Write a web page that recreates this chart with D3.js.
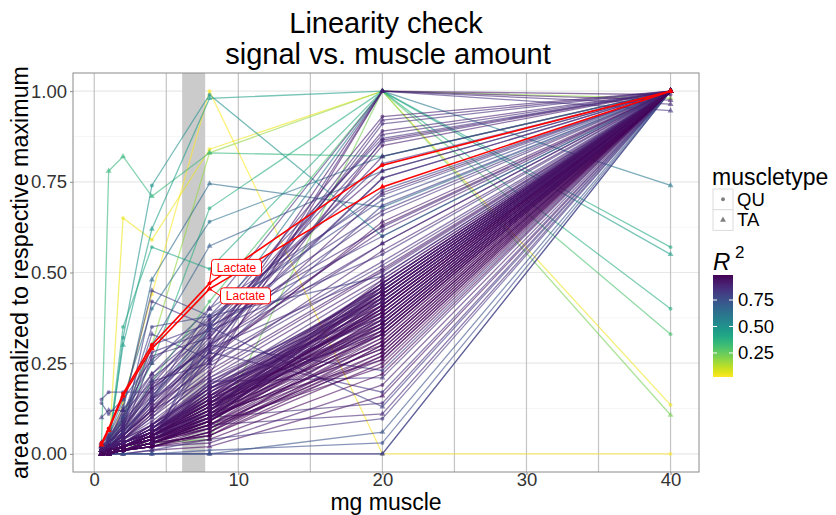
<!DOCTYPE html>
<html>
<head>
<meta charset="utf-8">
<script src="https://cdn.jsdelivr.net/npm/d3@7"></script>
<style>
  body { margin: 0; background: #fff; }
  text { font-family: "Liberation Sans", Arial, sans-serif; }
</style>
</head>
<body>
<svg id="chart" width="836" height="515"></svg>
<script>
// mg of muscle in each dilution step
const mgMuscle = [0.5, 1, 2, 4, 8, 20, 40];

// bulk of well-behaved metabolites (dense purple band)
const bandAreas = [
  [0.00,0.01,0.02,0.05,0.12,0.40,1], [0.01,0.01,0.03,0.06,0.14,0.42,1],
  [0.00,0.00,0.01,0.03,0.09,0.35,1], [0.00,0.01,0.02,0.04,0.10,0.38,1],
  [0.01,0.02,0.03,0.07,0.16,0.45,1], [0.00,0.00,0.01,0.02,0.06,0.30,1],
  [0.00,0.01,0.02,0.05,0.13,0.44,1], [0.01,0.01,0.02,0.06,0.15,0.47,1],
  [0.00,0.00,0.02,0.04,0.11,0.33,1], [0.00,0.01,0.03,0.06,0.17,0.41,1],
  [0.00,0.00,0.01,0.03,0.08,0.28,1], [0.01,0.02,0.04,0.08,0.18,0.46,1],
  [0.00,0.01,0.02,0.05,0.12,0.36,1], [0.00,0.00,0.01,0.04,0.10,0.43,1],
  [0.00,0.01,0.02,0.05,0.14,0.39,1], [0.01,0.01,0.03,0.07,0.19,0.48,1],
  [0.00,0.00,0.01,0.02,0.07,0.32,1], [0.00,0.01,0.02,0.04,0.11,0.37,1],
  [0.00,0.01,0.03,0.06,0.15,0.44,1], [0.00,0.00,0.02,0.05,0.13,0.34,1],
  [0.01,0.02,0.03,0.08,0.20,0.45,1], [0.00,0.00,0.01,0.03,0.09,0.41,1],
  [0.00,0.01,0.02,0.04,0.12,0.46,1], [0.00,0.00,0.01,0.03,0.05,0.25,1],
  [0.00,0.01,0.02,0.05,0.16,0.38,1], [0.01,0.01,0.03,0.07,0.18,0.42,1],
  [0.00,0.00,0.02,0.04,0.08,0.31,1], [0.00,0.01,0.02,0.06,0.14,0.36,1],
  [0.00,0.00,0.01,0.02,0.04,0.22,1], [0.00,0.01,0.03,0.06,0.17,0.47,1],
  [0.00,0.01,0.02,0.05,0.10,0.29,1], [0.01,0.02,0.04,0.09,0.21,0.43,1],
  [0.00,0.00,0.01,0.03,0.07,0.27,1], [0.00,0.01,0.02,0.04,0.13,0.40,1],
  [0.00,0.00,0.02,0.05,0.15,0.35,1], [0.00,0.01,0.02,0.06,0.11,0.44,1],
  [0.00,0.00,0.01,0.02,0.06,0.34,1], [0.01,0.01,0.03,0.07,0.19,0.39,1],
  [0.00,0.00,0.02,0.04,0.09,0.37,1], [0.00,0.01,0.02,0.05,0.12,0.48,1],
  [0.00,0.00,0.01,0.03,0.08,0.24,1], [0.00,0.01,0.03,0.06,0.16,0.33,1],
  [0.00,0.00,0.02,0.05,0.14,0.45,1], [0.01,0.01,0.02,0.04,0.10,0.41,1],
  [0.00,0.00,0.01,0.03,0.05,0.30,1], [0.00,0.01,0.02,0.06,0.18,0.38,1],
  [0.00,0.00,0.02,0.05,0.13,0.42,1], [0.00,0.01,0.02,0.04,0.11,0.26,1],
  [0.01,0.02,0.03,0.07,0.15,0.36,1], [0.00,0.00,0.01,0.03,0.09,0.46,1],
  [0.00,0.01,0.02,0.04,0.11,0.39,1], [0.00,0.00,0.01,0.03,0.10,0.42,1],
  [0.01,0.01,0.03,0.06,0.15,0.45,1], [0.00,0.01,0.02,0.05,0.13,0.37,1],
  [0.00,0.00,0.01,0.03,0.08,0.33,1], [0.00,0.01,0.02,0.05,0.14,0.43,1],
  [0.01,0.02,0.03,0.07,0.17,0.40,1], [0.00,0.00,0.02,0.04,0.09,0.36,1],
  [0.00,0.01,0.02,0.06,0.16,0.47,1], [0.00,0.00,0.01,0.03,0.07,0.31,1],
  [0.00,0.01,0.03,0.06,0.14,0.34,1], [0.01,0.01,0.02,0.05,0.12,0.44,1],
  [0.00,0.00,0.01,0.04,0.11,0.41,1], [0.00,0.01,0.02,0.05,0.15,0.38,1],
  [0.00,0.00,0.02,0.04,0.10,0.29,1], [0.01,0.02,0.04,0.08,0.19,0.46,1],
  [0.00,0.01,0.02,0.05,0.12,0.35,1], [0.00,0.00,0.01,0.03,0.09,0.40,1],
  [0.00,0.01,0.02,0.06,0.17,0.43,1], [0.00,0.00,0.01,0.02,0.06,0.28,1],
  [0.01,0.01,0.03,0.07,0.18,0.44,1], [0.00,0.01,0.02,0.04,0.10,0.32,1],
  [0.00,0.00,0.02,0.05,0.13,0.39,1], [0.00,0.01,0.02,0.05,0.11,0.45,1],
  [0.00,0.00,0.01,0.03,0.08,0.36,1], [0.01,0.02,0.03,0.06,0.16,0.41,1],
  [0.00,0.00,0.01,0.04,0.12,0.47,1], [0.00,0.01,0.02,0.05,0.14,0.30,1],
  [0.00,0.00,0.02,0.04,0.07,0.26,1], [0.00,0.01,0.03,0.07,0.20,0.42,1],
  [0.00,0.00,0.01,0.03,0.09,0.38,1], [0.01,0.01,0.02,0.05,0.13,0.35,1],
  [0.00,0.01,0.02,0.06,0.15,0.46,1], [0.00,0.00,0.01,0.02,0.05,0.27,1],
  [0.00,0.01,0.02,0.04,0.11,0.33,1], [0.00,0.00,0.02,0.05,0.14,0.44,1],
  [0.01,0.02,0.03,0.08,0.18,0.37,1], [0.00,0.00,0.01,0.03,0.10,0.43,1],
  [0.00,0.01,0.02,0.05,0.12,0.40,1], [0.00,0.00,0.01,0.04,0.09,0.34,1]
];
const bandR2 = [
  0.95,0.93,0.97,0.96,0.92,0.98,0.94,0.91,0.96,0.93,
  0.97,0.90,0.95,0.94,0.96,0.89,0.97,0.95,0.93,0.96,
  0.90,0.94,0.92,0.98,0.95,0.93,0.96,0.94,0.97,0.91,
  0.95,0.89,0.97,0.94,0.96,0.92,0.97,0.90,0.95,0.93,
  0.96,0.94,0.92,0.95,0.97,0.91,0.94,0.96,0.92,0.93,
  0.94,0.96,0.92,0.95,0.97,0.93,0.91,0.96,0.94,0.98,
  0.92,0.95,0.97,0.93,0.96,0.90,0.94,0.97,0.92,0.98,
  0.91,0.95,0.96,0.93,0.97,0.94,0.92,0.96,0.95,0.90,
  0.97,0.93,0.94,0.98,0.95,0.96,0.91,0.94,0.96,0.97
];
const bandTissue = [
  "QU","TA","QU","QU","TA","QU","TA","QU","TA","QU",
  "TA","QU","QU","TA","QU","TA","QU","TA","QU","TA",
  "QU","TA","QU","QU","TA","QU","TA","QU","TA","QU",
  "TA","QU","QU","TA","QU","TA","QU","TA","QU","TA",
  "QU","TA","QU","QU","TA","QU","TA","QU","TA","QU",
  "TA","QU","TA","TA","QU","TA","QU","TA","QU","QU",
  "TA","QU","TA","QU","TA","TA","QU","TA","QU","TA",
  "QU","TA","QU","TA","QU","QU","TA","QU","TA","QU",
  "TA","QU","TA","QU","QU","TA","QU","TA","QU","TA"
];

// metabolites spread above / below the band, and a few peaking at 20 mg
const spreadAreas = [
  [0.02,0.04,0.09,0.18,0.35,0.93,1], [0.01,0.03,0.06,0.14,0.30,0.92,1],
  [0.00,0.02,0.05,0.12,0.28,0.91,1], [0.03,0.05,0.10,0.22,0.38,0.87,1],
  [0.01,0.02,0.05,0.12,0.25,0.865,1], [0.02,0.03,0.08,0.16,0.33,0.86,1],
  [0.15,0.17,0.17,0.17,0.30,0.76,1], [0.14,0.11,0.15,0.26,0.37,0.727,1],
  [0.10,0.12,0.12,0.25,0.40,0.713,1], [0.02,0.04,0.10,0.35,0.38,0.70,1],
  [0.01,0.02,0.08,0.33,0.26,0.685,1], [0.00,0.03,0.07,0.30,0.36,0.67,1],
  [0.02,0.04,0.12,0.22,0.35,0.625,1], [0.01,0.02,0.06,0.18,0.30,0.615,1],
  [0.00,0.02,0.05,0.15,0.28,0.58,1], [0.02,0.03,0.09,0.28,0.34,0.55,1],
  [0.01,0.04,0.11,0.20,0.25,0.52,1], [0.00,0.01,0.04,0.10,0.22,0.505,1],
  [0.03,0.05,0.13,0.45,0.38,0.49,1], [0.01,0.02,0.06,0.42,0.35,0.60,1],
  [0.00,0.02,0.05,0.27,0.32,0.82,1], [0.01,0.03,0.07,0.19,0.37,0.78,1],
  [0.00,0.02,0.04,0.11,0.26,0.64,1],
  [0.01,0.02,0.06,0.15,0.32,0.89,1], [0.02,0.03,0.07,0.17,0.34,0.88,1],
  [0.00,0.02,0.05,0.13,0.29,0.85,1], [0.01,0.03,0.08,0.20,0.36,0.80,1],
  [0.00,0.02,0.06,0.16,0.31,0.76,1], [0.01,0.02,0.05,0.14,0.28,0.72,1],
  [0.02,0.04,0.09,0.21,0.33,0.66,1], [0.00,0.01,0.04,0.12,0.27,0.63,1],
  [0.01,0.03,0.07,0.18,0.30,0.58,1], [0.00,0.02,0.05,0.13,0.24,0.56,1],
  [0.01,0.02,0.06,0.15,0.26,0.53,1], [0.00,0.01,0.04,0.11,0.23,0.51,1],
  [0.02,0.03,0.08,0.19,0.29,0.50,1], [0.01,0.02,0.05,0.12,0.21,0.49,1],
  [0.00,0.00,0.01,0.02,0.03,0.19,1], [0.00,0.00,0.00,0.01,0.02,0.16,1],
  [0.00,0.01,0.02,0.05,0.10,0.14,1], [0.00,0.00,0.01,0.03,0.08,0.11,1],
  [0.00,0.00,0.00,0.01,0.04,0.097,1], [0.00,0.00,0.00,0.00,0.01,0.03,1],
  [0.00,0.00,0.01,0.02,0.20,0.21,1], [0.00,0.01,0.02,0.04,0.30,0.23,1],
  [0.00,0.00,0.00,0.00,0.00,0.06,1], [0.00,0.00,0.01,0.03,0.28,0.17,1],
  [0.00,0.00,0.01,0.02,0.35,0.13,1],
  [0.01,0.02,0.05,0.12,0.30,1.00,0.975], [0.00,0.02,0.04,0.10,0.25,1.00,0.964],
  [0.02,0.03,0.06,0.15,0.40,1.00,0.946], [0.00,0.01,0.03,0.08,0.22,1.00,0.99]
];
const spreadR2 = [
  0.90,0.88,0.86,0.84,0.91,0.87,0.82,0.80,0.83,0.79,
  0.81,0.85,0.88,0.90,0.87,0.84,0.86,0.92,0.80,0.83,
  0.89,0.91,0.93,
  0.90,0.87,0.92,0.85,0.88,0.91,0.86,0.93,0.89,0.90,0.87,0.92,0.88,0.91,
  0.92,0.94,0.86,0.88,0.83,0.76,0.85,0.82,0.74,0.84,0.81,
  0.90,0.88,0.85,0.92
];
const spreadTissue = [
  "QU","TA","QU","TA","QU","TA","QU","QU","TA","QU",
  "TA","QU","TA","QU","TA","QU","TA","QU","TA","QU",
  "TA","QU","TA",
  "QU","TA","QU","TA","QU","TA","QU","TA","QU","TA","QU","TA","QU","TA",
  "QU","TA","QU","TA","QU","QU","TA","QU","TA","QU","TA",
  "TA","TA","TA","QU"
];

// poorly linear metabolites (low R^2)
const outlierAreas = [
  [0.00,0.02,0.14,0.44,1.00,0.00,0.00],
  [0.00,0.00,0.65,0.59,0.84,1.00,0.135],
  [0.00,0.01,0.02,0.03,0.04,1.00,0.107],
  [0.01,0.03,0.10,0.30,0.83,1.00,0.98],
  [0.02,0.78,0.82,0.71,0.83,0.82,1.00],
  [0.00,0.01,0.32,0.74,0.99,0.60,1.00],
  [0.00,0.03,0.30,0.62,0.98,1.00,0.55],
  [0.00,0.02,0.35,0.57,0.51,1.00,0.57],
  [0.00,0.01,0.10,0.25,0.677,1.00,0.40],
  [0.00,0.02,0.06,0.20,0.42,1.00,0.33],
  [0.01,0.03,0.12,0.48,0.745,0.68,1.00],
  [0.02,0.05,0.15,0.40,0.64,0.82,1.00],
  [0.01,0.03,0.10,0.30,0.573,0.78,1.00],
  [0.00,0.01,0.05,0.15,0.35,1.00,0.74],
  [0.00,0.00,0.00,0.00,0.00,0.00,1.00],
  [0.00,0.00,0.00,0.00,0.00,0.00,1.00]
];
const outlierR2 = [0.023,0.05,0.22,0.18,0.35,0.50,0.45,0.40,0.38,0.30,0.65,0.62,0.70,0.60,0.78,0.80];
const outlierTissue = ["QU","QU","TA","TA","TA","QU","TA","QU","QU","QU","TA","QU","TA","TA","TA","QU"];

// highlighted metabolite
const lactateAreas = [
  [0.03,0.07,0.166,0.30,0.47,0.796,1.00],
  [0.025,0.065,0.16,0.29,0.455,0.736,1.00]
];
const lactateR2 = [0.986, 0.98];
const lactateTissue = ["QU", "TA"];

const yTicks = [0, 0.25, 0.5, 0.75, 1];
const xTicks = [0, 10, 20, 30, 40];
const r2Ticks = [0.25, 0.5, 0.75];

function rows(areas, r2, tissue, hl) {
  return areas.map((a, i) => ({
    r2: r2[i], tissue: tissue[i], highlight: hl,
    pts: a.map((v, j) => ({ mg: mgMuscle[j], area: v }))
  }));
}
const series = [].concat(
  rows(outlierAreas, outlierR2, outlierTissue, false),
  rows(spreadAreas, spreadR2, spreadTissue, false),
  rows(bandAreas, bandR2, bandTissue, false),
  rows(lactateAreas, lactateR2, lactateTissue, true)
);

const svg = d3.select("#chart");
const panel = { left: 73, right: 699, top: 73, bottom: 472 };

const xExt = d3.extent(mgMuscle);
const xPad = (xExt[1] - xExt[0]) * 0.05;
const x = d3.scaleLinear().domain([xExt[0] - xPad, xExt[1] + xPad]).range([panel.left, panel.right]);
const yExt = d3.extent(series.flatMap(s => s.pts.map(p => p.area)));
const yPad = (yExt[1] - yExt[0]) * 0.05;
const y = d3.scaleLinear().domain([yExt[0] - yPad, yExt[1] + yPad]).range([panel.bottom, panel.top]);

const r2Ext = d3.extent(series.map(s => s.r2));
const color = d3.scaleSequential(d3.interpolateViridis).domain([r2Ext[1], r2Ext[0]]);

// panel background + grid
svg.append("rect")
  .attr("x", panel.left).attr("y", panel.top)
  .attr("width", panel.right - panel.left).attr("height", panel.bottom - panel.top)
  .attr("fill", "#fff");

const minorY = d3.range(0.125, 1.05, 0.25);
svg.append("g").selectAll("line").data(minorY).join("line")
  .attr("x1", panel.left).attr("x2", panel.right)
  .attr("y1", d => y(d)).attr("y2", d => y(d))
  .attr("stroke", "#f4f4f4").attr("stroke-width", 0.8);
svg.append("g").selectAll("line").data(yTicks).join("line")
  .attr("x1", panel.left).attr("x2", panel.right)
  .attr("y1", d => y(d)).attr("y2", d => y(d))
  .attr("stroke", "#e8e8e8").attr("stroke-width", 1.2);
svg.append("g").selectAll("line").data(d3.range(0, 41, 5)).join("line")
  .attr("x1", d => x(d)).attr("x2", d => x(d))
  .attr("y1", panel.top).attr("y2", panel.bottom)
  .attr("stroke", "#c4c4c4").attr("stroke-width", 1.2);

// shaded region
svg.append("rect")
  .attr("x", x(6.1)).attr("width", x(7.7) - x(6.1))
  .attr("y", panel.top).attr("height", panel.bottom - panel.top)
  .attr("fill", "#cbcbcb");

const line = d3.line().x(d => x(d.mg)).y(d => y(d.area));
const marks = svg.append("g");

series.forEach(s => {
  const c = s.highlight ? "#ff0000" : color(s.r2);
  const op = s.highlight ? 1 : 0.6;
  const g = marks.append("g");
  g.append("path")
    .attr("d", line(s.pts))
    .attr("fill", "none")
    .attr("stroke", c)
    .attr("stroke-opacity", op)
    .attr("stroke-width", s.highlight ? 1.6 : 1.3);
  const sym = d3.symbol().type(s.tissue === "QU" ? d3.symbolCircle : d3.symbolTriangle)
    .size(s.tissue === "QU" ? 12 : 15);
  g.selectAll("path.pt").data(s.pts).join("path")
    .attr("class", "pt")
    .attr("transform", d => `translate(${x(d.mg)},${y(d.area)})`)
    .attr("d", sym)
    .attr("fill", c)
    .attr("fill-opacity", s.highlight ? 1 : 0.6);
});

// Lactate labels (repelled labels next to the 8 mg point)
const lactateLabels = [
  { pt: { mg: 8, area: lactateAreas[0][4] }, dx: 27, dy: -16 },
  { pt: { mg: 8, area: lactateAreas[1][4] }, dx: 36, dy: 7 }
];
lactateLabels.forEach(l => {
  const cx = x(l.pt.mg) + l.dx, cy = y(l.pt.area) + l.dy;
  const w = 50, h = 16;
  svg.append("line")
    .attr("x1", x(l.pt.mg)).attr("y1", y(l.pt.area))
    .attr("x2", cx - w / 2).attr("y2", cy)
    .attr("stroke", "#ff0000").attr("stroke-width", 1);
  svg.append("rect")
    .attr("x", cx - w / 2).attr("y", cy - h / 2)
    .attr("width", w).attr("height", h).attr("rx", 3)
    .attr("fill", "#fff").attr("stroke", "#ff0000").attr("stroke-width", 1);
  svg.append("text")
    .attr("x", cx).attr("y", cy + 4.3)
    .attr("text-anchor", "middle")
    .attr("font-size", 12).attr("fill", "#ff0000")
    .text("Lactate");
});

// panel border
svg.append("rect")
  .attr("x", panel.left).attr("y", panel.top)
  .attr("width", panel.right - panel.left).attr("height", panel.bottom - panel.top)
  .attr("fill", "none").attr("stroke", "#8a8a8a").attr("stroke-width", 1);

// axes
const xAxis = svg.append("g")
  .attr("transform", `translate(0,${panel.bottom})`)
  .call(d3.axisBottom(x).tickValues(xTicks).tickSize(3).tickPadding(3).tickFormat(d3.format("d")));
const yAxis = svg.append("g")
  .attr("transform", `translate(${panel.left},0)`)
  .call(d3.axisLeft(y).tickValues(yTicks).tickSize(3).tickPadding(3).tickFormat(d3.format(".2f")));
[xAxis, yAxis].forEach(a => {
  a.select(".domain").remove();
  a.selectAll(".tick line").attr("stroke", "#8a8a8a");
  a.selectAll(".tick text").attr("font-size", 18.5).attr("fill", "#333")
    .attr("font-family", '"Liberation Sans", Arial, sans-serif');
});
xAxis.selectAll(".tick text").attr("y", 1);

// titles
const midX = (panel.left + panel.right) / 2;
svg.append("text").attr("x", midX).attr("y", 33)
  .attr("text-anchor", "middle").attr("font-size", 29).attr("fill", "#000")
  .text("Linearity check");
svg.append("text").attr("x", midX + 2).attr("y", 64)
  .attr("text-anchor", "middle").attr("font-size", 29).attr("fill", "#000")
  .text("signal vs. muscle amount");
svg.append("text").attr("x", midX).attr("y", 510)
  .attr("text-anchor", "middle").attr("font-size", 23).attr("fill", "#000")
  .text("mg muscle");
svg.append("text")
  .attr("transform", `translate(28,${(panel.top + panel.bottom) / 2}) rotate(-90)`)
  .attr("text-anchor", "middle").attr("font-size", 23.3).attr("fill", "#000")
  .text("area normalized to respective maximum");

// legend: muscle type
const leg = svg.append("g").attr("transform", "translate(713,0)");
leg.append("text").attr("x", -1).attr("y", 185).attr("font-size", 23).text("muscletype");
["QU", "TA"].forEach((t, i) => {
  const ky = 189 + i * 20.7;
  leg.append("rect").attr("x", 0).attr("y", ky).attr("width", 20).attr("height", 20.7)
    .attr("fill", "#fff").attr("stroke", "#dcdcdc").attr("stroke-width", 1);
  leg.append("path")
    .attr("transform", `translate(10,${ky + 10.3})`)
    .attr("d", d3.symbol().type(t === "QU" ? d3.symbolCircle : d3.symbolTriangle).size(t === "QU" ? 12 : 15))
    .attr("fill", "#7f7f7f");
  leg.append("text").attr("x", 24).attr("y", ky + 16.5).attr("font-size", 18.5).text(t);
});

// legend: R^2 colourbar
leg.append("text").attr("x", 0).attr("y", 270).attr("font-size", 24)
  .attr("font-style", "italic").text("R");
leg.append("text").attr("x", 22).attr("y", 258).attr("font-size", 17).text("2");

const barTop = 275, barBottom = 377, barW = 20;
const grad = svg.append("defs").append("linearGradient")
  .attr("id", "r2grad").attr("x1", 0).attr("y1", 1).attr("x2", 0).attr("y2", 0);
d3.range(0, 1.0001, 0.05).forEach(t => {
  grad.append("stop").attr("offset", t)
    .attr("stop-color", color(r2Ext[0] + t * (r2Ext[1] - r2Ext[0])));
});
leg.append("rect").attr("x", 0).attr("y", barTop).attr("width", barW)
  .attr("height", barBottom - barTop).attr("fill", "url(#r2grad)");
const cb = d3.scaleLinear().domain(r2Ext).range([barBottom, barTop]);
r2Ticks.forEach(v => {
  leg.append("line").attr("x1", 0).attr("x2", 4).attr("y1", cb(v)).attr("y2", cb(v))
    .attr("stroke", "#fff").attr("stroke-width", 1);
  leg.append("line").attr("x1", barW - 4).attr("x2", barW).attr("y1", cb(v)).attr("y2", cb(v))
    .attr("stroke", "#fff").attr("stroke-width", 1);
  leg.append("text").attr("x", 25).attr("y", cb(v) + 6.5).attr("font-size", 18.5)
    .text(d3.format(".2f")(v));
});
</script>
</body>
</html>
